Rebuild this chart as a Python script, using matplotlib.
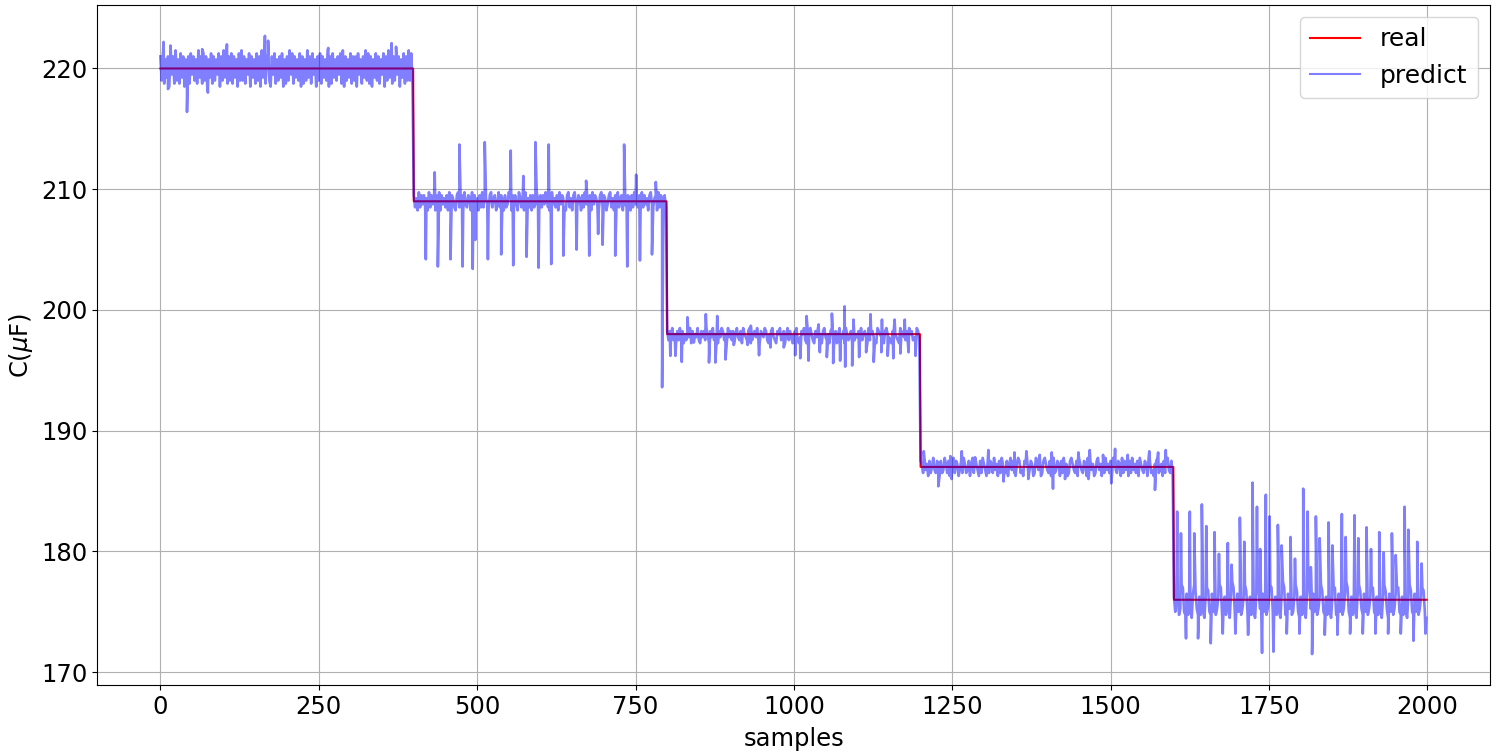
import numpy as np
import matplotlib
matplotlib.use("Agg")
import matplotlib.pyplot as plt

# ---- data ----
levels = [220, 209, 198, 187, 176]   # real capacitance per block
seg_len = 400                          # samples per block

# prediction noise per block, one char per 2 samples: value = level + (ord(c)-ord('m'))*0.25
noise_seg1 = ("qirhpjqgrk" "qhsiphrjqg" "piqhrkqiph" "sjqhriqgpj" "rhqipkrgqi"
              "sjphqirhqj" "pgrisiqhpk" "rgqjphriqg" "sjqhprigqk" "rhpiqjrgph"
              "qiskrhqjpi" "rgqhpisjqh" "rkpgqirhqj" "pisgqhrjpi" "qkrhsgqipj"
              "rhqiqgrkph" "qjsirhqgpj" "riqhpkrgqi" "sjphqirkqg" "pjrhqisirh")
noise_seg2 = ("oknjpkolok" "njpkolnjok" "pjolnkojpl" "onkjopknoj" "plkonjpkol"
              "njokpkonlj" "opknojlpko" "njoklpnjok" "oljpnkojpl" "nkojoklpnj"
              "okolpnkjop" "lnkojplonk" "jopknjoplk" "onjokplnko" "jplonkjopk"
              "onjlopknjo" "lpknojplko" "njokplnkoj" "pkolnjoplk" "nojpkonjok")
noise_seg3 = ("nknlokmjnk" "olnjmknloj" "nkmlokjnln" "komjnlokmk" "jnlonkmjol"
              "nknjmolknj" "omlknojkmn" "lokjnmlonk" "jmnolkjnmo" "klnjmoknlj"
              "mnokjlnmok" "jnlomkjnlo" "kmjnolkmjn" "oklnjmokln" "jomklnjokm"
              "lnjokmnljo" "kmnlkjonml" "kjnomlkjno" "mlkjonmlkn" "jomnkljonk")
noise_seg4 = ("onkplnjokm" "plkonjoklp" "nkojlnpkon" "jlokpnkloj" "npkonljokp"
              "nljokonkpl" "njokpnlkoj" "nplokjnpok" "ljonpklonj" "kpolnjkopn"
              "lkojnpklon" "jokplnjkop" "nlkojpnlko" "njpkolnjko" "plnjokplnk"
              "ojpnlkonjp" "kolnjokpln" "kojpnlkonj" "pokljnopkl" "njoknplkoj")
noise_seg5 = ("nionhjrqih" "ohnigorpjh" "nhoignqpih" "oinhjnrqhi" "nhojgosqih"
              "oinhjnrpig" "nhoigoqpjh" "oinhjnrqih" "nhoigosqhi" "ojnhinrpig"
              "nhoigoqqjh" "oinhjnrpih" "nhoignqqhi" "oinhjosqig" "nhoigorpjh"
              "oinhjnqqih" "nhoignrpjg" "oinhjoqqih" "nhoignrpih" "oinhjnqpig")

# isolated spikes of the prediction (sample, value)
spike_samples = [5, 12, 16, 42, 66, 75, 105, 165, 170, 265, 365, 372,
                 433, 472, 512, 553, 573, 592, 613, 672, 732, 751, 782,
                 419, 438, 458, 477, 493, 497, 517, 538, 557, 578, 597, 617, 636, 657,
                 677, 691, 698, 718, 737, 757, 776, 792,
                 832, 861, 879, 932, 1020, 1039, 1060, 1080, 1094, 1121, 1139, 1159, 1175,
                 805, 813, 823, 842, 866, 876, 892, 905, 927, 945, 963, 984, 1002, 1010,
                 1023, 1041, 1052, 1062, 1073, 1081, 1092, 1103, 1114, 1126, 1138, 1148,
                 1157, 1168, 1181, 1192,
                 1205, 1247, 1265, 1286, 1307, 1348, 1367, 1388, 1407, 1449, 1467, 1488,
                 1507, 1527, 1561, 1575, 1587,
                 1228, 1249, 1331, 1370, 1409, 1428, 1465, 1501, 1570,
                 1605, 1611, 1625, 1632, 1644, 1651, 1664, 1671, 1685, 1691, 1704, 1711,
                 1724, 1731, 1736, 1745, 1751, 1764, 1770, 1784, 1791, 1804, 1811, 1816,
                 1824, 1830, 1844, 1850, 1865, 1871, 1885, 1891, 1904, 1911, 1924, 1931,
                 1944, 1950, 1964, 1970, 1984, 1991,
                 1619, 1638, 1658, 1677, 1697, 1717, 1739, 1757, 1778, 1798, 1818, 1838,
                 1858, 1878, 1898, 1918, 1938, 1958, 1978, 1997]
spike_values = [222.2, 218.3, 221.9, 216.4, 221.6, 218.0, 222.0, 222.7, 222.3, 221.7, 222.1, 221.8,
                211.4, 213.7, 213.9, 213.2, 211.1, 213.9, 213.7, 210.7, 213.7, 211.2, 210.6,
                204.2, 203.6, 204.2, 203.6, 203.4, 205.8, 204.2, 204.6, 203.7, 204.4, 203.5, 203.8, 204.5, 205.0,
                204.5, 206.3, 205.4, 204.5, 203.6, 204.1, 204.6, 193.6,
                199.4, 199.65, 199.5, 198.7, 199.5, 198.8, 199.7, 200.3, 199.2, 199.65, 199.2, 199.2, 199.2,
                196.2, 196.2, 195.7, 197.3, 195.65, 195.65, 195.9, 197.1, 197.1, 196.25, 196.9, 196.9, 196.25, 196.0,
                195.8, 196.5, 196.1, 195.6, 195.8, 195.3, 195.4, 196.1, 196.5, 195.7, 196.5, 196.2,
                196.0, 196.4, 196.5, 196.2,
                188.3, 187.9, 188.3, 187.8, 188.4, 188.2, 188.3, 188.0, 188.2, 188.2, 188.4, 188.0,
                188.5, 188.0, 188.3, 188.2, 188.4,
                185.4, 186.0, 185.8, 186.0, 185.2, 186.0, 186.0, 185.65, 185.1,
                183.3, 181.5, 183.3, 181.5, 183.9, 182.1, 181.6, 179.8, 180.7, 178.9, 182.8, 180.8,
                185.7, 183.7, 180.2, 184.7, 182.9, 182.2, 180.5, 181.2, 179.4, 185.2, 183.3, 178.7,
                182.9, 181.1, 182.4, 180.5, 183.1, 181.2, 183.0, 181.1, 182.0, 180.2, 181.6, 179.9,
                181.5, 179.7, 183.7, 181.8, 180.8, 179.0,
                172.8, 172.8, 172.4, 173.2, 173.2, 173.1, 171.6, 171.7, 173.2, 173.2, 171.5, 173.1,
                173.1, 173.2, 173.2, 173.2, 173.2, 173.2, 172.6, 173.2]

# ---- build series ----
real = np.repeat(np.array(levels, dtype=float), seg_len)
x_real = np.arange(len(real))

noise = [noise_seg1, noise_seg2, noise_seg3, noise_seg4, noise_seg5]
px, py = [], []
for k, (lvl, s) in enumerate(zip(levels, noise)):
    n = len(s)
    px.append(k * seg_len + np.arange(n) * seg_len / n)
    py.append(lvl + (np.array([ord(c) for c in s]) - ord('m')) * 0.25)
px = np.concatenate(px + [np.array(spike_samples, dtype=float)])
py = np.concatenate(py + [np.array(spike_values, dtype=float)])
order = np.argsort(px, kind="stable")
px, py = px[order], py[order]

# ---- plot ----
fig, ax = plt.subplots(figsize=(14.98, 7.53), dpi=100)
fig.subplots_adjust(left=0.0648, right=0.9947, top=0.9934, bottom=0.0903)
ax.plot(x_real, real, color="red", lw=1.5, label="real")
ax.plot(px, py, color="blue", alpha=0.5, lw=1.9, label="predict")
ax.grid(True)
ax.tick_params(labelsize=17.5)
ax.set_xlabel("samples", fontsize=17.5, labelpad=6)
ax.set_ylabel(r"C($\mu$F)", fontsize=17.5)
leg = ax.legend(loc="upper right", fontsize=18)
for h in leg.get_lines():
    h.set_linewidth(1.5)
fig.savefig("out.png", dpi=100)
